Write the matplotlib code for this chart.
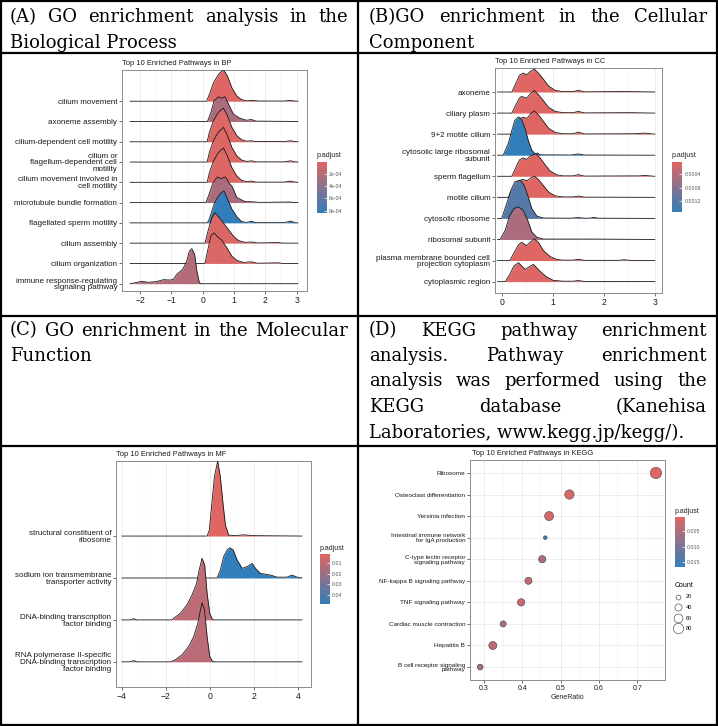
import matplotlib
matplotlib.use("Agg")
import matplotlib.pyplot as plt
import numpy as np
from matplotlib.colors import LinearSegmentedColormap, Normalize
from matplotlib.cm import ScalarMappable
from matplotlib.lines import Line2D

W, H, DPI = 718, 726, 100
plt.rcParams["font.family"] = ["Liberation Sans", "DejaVu Sans"]

# ---- header texts ----
HEAD_A = ["(A) GO enrichment analysis in the", "Biological Process"]
HEAD_B = ["(B)GO enrichment in the Cellular", "Component"]
HEAD_C = ["(C) GO enrichment in the Molecular", "Function"]
HEAD_D = ["(D) KEGG pathway enrichment",
          "analysis. Pathway enrichment",
          "analysis was performed using the",
          "KEGG database (Kanehisa",
          "Laboratories, www.kegg.jp/kegg/)."]

# ---- BP ridges (top -> bottom), points (x, relative height) ----
BP_TERMS = ["cilium movement", "axoneme assembly", "cilium-dependent cell motility",
            "cilium or\nflagellum-dependent cell\nmotility",
            "cilium movement involved in\ncell motility", "microtubule bundle formation",
            "flagellated sperm motility", "cilium assembly", "cilium organization",
            "immune response-regulating\nsignaling pathway"]
BP_PADJ = [2e-5, 2.6e-4, 3e-5, 3e-5, 3e-5, 2.6e-4, 8.3e-4, 4e-5, 4e-5, 2.2e-4]
BP_SPAN = (-2.32, 3.04)
BP_CURVES = [
    [(0.12, 0), (0.21, 0.33), (0.34, 0.9), (0.5, 1.32), (0.66, 1.56), (0.79, 1.23), (0.93, 0.66),
     (1.09, 0.25), (1.24, 0.08), (1.4, 0.02), (1.6, 0.04), (1.8, 0.01), (2.6, 0.01), (2.8, 0.04), (2.95, 0.01)],
    [(0.15, 0), (0.26, 0.44), (0.36, 1.02), (0.5, 1.22), (0.61, 1.15), (0.71, 1.22), (0.85, 0.77),
     (0.98, 0.36), (1.19, 0.16), (1.4, 0.06), (1.55, 0.1), (1.7, 0.02)],
    [(0.14, 0), (0.21, 0.46), (0.34, 1.04), (0.5, 1.45), (0.66, 1.66), (0.79, 1.28), (0.93, 0.71),
     (1.09, 0.3), (1.24, 0.1), (1.4, 0.03), (1.55, 0.05), (1.7, 0.01), (2.6, 0.01), (2.8, 0.05), (2.95, 0.01)],
    [(0.14, 0), (0.21, 0.47), (0.34, 1.06), (0.5, 1.48), (0.66, 1.71), (0.79, 1.3), (0.93, 0.72),
     (1.09, 0.3), (1.24, 0.1), (1.4, 0.03), (1.55, 0.06), (1.7, 0.01), (2.6, 0.01), (2.8, 0.06), (2.95, 0.01)],
    [(0.14, 0), (0.21, 0.46), (0.34, 1.05), (0.5, 1.47), (0.66, 1.7), (0.79, 1.29), (0.93, 0.72),
     (1.09, 0.3), (1.24, 0.1), (1.4, 0.03), (1.55, 0.06), (1.7, 0.01), (2.6, 0.01), (2.8, 0.06), (2.95, 0.01)],
    [(0.1, 0), (0.2, 0.4), (0.32, 0.95), (0.47, 1.27), (0.58, 1.18), (0.72, 1.27), (0.85, 0.95),
     (0.93, 0.82), (1.09, 0.25), (1.35, 0.05), (1.6, 0.04), (1.8, 0.01), (2.8, 0.03), (2.95, 0)],
    [(0.14, 0), (0.2, 0.15), (0.26, 0.43), (0.36, 0.92), (0.5, 1.33), (0.6, 1.5), (0.68, 1.58),
     (0.77, 1.25), (0.93, 0.68), (1.09, 0.3), (1.24, 0.07), (1.4, 0.02), (1.55, 0.08), (1.7, 0.01),
     (2.6, 0.01), (2.8, 0.09), (2.95, 0.01)],
    [(0.07, 0), (0.18, 0.67), (0.29, 1.25), (0.39, 1.5), (0.53, 1.25), (0.66, 1.0), (0.82, 0.67),
     (0.98, 0.35), (1.14, 0.13), (1.35, 0.04), (1.55, 0.06), (1.75, 0.01), (2.4, 0.03), (2.55, 0)],
    [(0.07, 0), (0.15, 0.6), (0.26, 1.35), (0.36, 1.51), (0.45, 1.35), (0.61, 1.14), (0.77, 0.77),
     (0.93, 0.36), (1.09, 0.15), (1.3, 0.05), (1.55, 0.08), (1.75, 0.01), (2.4, 0.03), (2.55, 0)],
    [(-2.32, 0), (-2.15, 0.05), (-1.95, 0.12), (-1.75, 0.07), (-1.5, 0.1), (-1.25, 0.2), (-1.05, 0.18),
     (-0.94, 0.21), (-0.83, 0.46), (-0.64, 0.71), (-0.51, 1.12), (-0.43, 1.6), (-0.35, 1.73),
     (-0.26, 1.45), (-0.19, 0.63), (-0.11, 0.05), (-0.05, 0)],
]

# ---- CC ridges ----
CC_TERMS = ["axoneme", "ciliary plasm", "9+2 motile cilium",
            "cytosolic large ribosomal\nsubunit", "sperm flagellum", "motile cilium",
            "cytosolic ribosome", "ribosomal subunit",
            "plasma membrane bounded cell\nprojection cytoplasm", "cytoplasmic region"]
CC_PADJ = [2e-5, 2e-5, 3e-5, 1.54e-3, 3e-5, 3e-5, 1.24e-3, 4.8e-4, 3e-5, 4e-5]
CC_SPAN = (-0.08, 3.0)
CC_CURVES = [
    [(0.2, 0), (0.28, 0.43), (0.35, 0.79), (0.42, 0.9), (0.49, 0.82), (0.56, 0.98), (0.64, 1.09),
     (0.72, 0.9), (0.82, 0.6), (0.92, 0.28), (1.05, 0.08), (1.2, 0.02), (1.4, 0.02), (1.5, 0.08),
     (1.62, 0.01), (2.2, 0.02), (2.5, 0.02), (2.8, 0.01)],
    [(0.2, 0), (0.28, 0.4), (0.35, 0.72), (0.39, 0.79), (0.49, 0.71), (0.56, 0.92), (0.64, 1.07),
     (0.72, 0.88), (0.82, 0.58), (0.92, 0.27), (1.05, 0.08), (1.2, 0.02), (1.4, 0.02), (1.5, 0.08),
     (1.62, 0.01), (2.5, 0.02)],
    [(0.2, 0), (0.28, 0.42), (0.36, 0.75), (0.42, 0.8), (0.5, 0.75), (0.57, 0.98), (0.64, 1.1),
     (0.72, 0.92), (0.82, 0.6), (0.92, 0.28), (1.05, 0.08), (1.2, 0.02), (1.4, 0.02), (1.5, 0.1),
     (1.62, 0.01), (2.6, 0.02), (2.8, 0.05), (2.95, 0.01)],
    [(0.03, 0), (0.13, 0.55), (0.2, 1.18), (0.26, 1.66), (0.33, 1.82), (0.39, 1.7), (0.46, 1.26),
     (0.52, 0.71), (0.59, 0.24), (0.65, 0.08), (0.7, 0.1), (0.76, 0.02), (1.35, 0.01), (1.5, 0.06),
     (1.62, 0.01)],
    [(0.2, 0), (0.28, 0.43), (0.35, 0.78), (0.42, 0.87), (0.49, 0.8), (0.57, 0.98), (0.67, 1.07),
     (0.75, 0.88), (0.85, 0.55), (0.95, 0.25), (1.08, 0.07), (1.2, 0.02), (1.4, 0.02), (1.5, 0.08),
     (1.62, 0.01), (2.7, 0.02), (2.8, 0.04), (2.95, 0.01)],
    [(0.13, 0), (0.22, 0.4), (0.3, 0.72), (0.4, 0.85), (0.5, 0.8), (0.57, 0.92), (0.64, 1.01),
     (0.72, 0.85), (0.82, 0.55), (0.92, 0.25), (1.05, 0.07), (1.2, 0.02), (1.4, 0.02), (1.5, 0.06),
     (1.62, 0.01)],
    [(0.0, 0), (0.1, 0.71), (0.18, 1.34), (0.26, 1.74), (0.36, 1.82), (0.44, 1.58), (0.52, 1.03),
     (0.59, 0.47), (0.69, 0.11), (0.82, 0.02), (1.35, 0.01), (1.5, 0.04), (1.62, 0.01), (1.72, 0.01),
     (1.8, 0.05), (1.9, 0.01)],
    [(-0.03, 0), (0.07, 0.44), (0.15, 1.1), (0.24, 1.47), (0.33, 1.55), (0.42, 1.39), (0.51, 0.92),
     (0.59, 0.36), (0.69, 0.1), (0.82, 0.02), (1.5, 0.02), (1.8, 0.02)],
    [(0.16, 0), (0.25, 0.4), (0.33, 0.75), (0.39, 0.87), (0.49, 0.71), (0.57, 0.9), (0.64, 1.03),
     (0.72, 0.86), (0.82, 0.47), (0.95, 0.19), (1.08, 0.05), (1.2, 0.02), (1.4, 0.02), (1.5, 0.06),
     (1.62, 0.01), (2.3, 0.01), (2.4, 0.04), (2.5, 0.01)],
    [(0.07, 0), (0.16, 0.35), (0.24, 0.74), (0.33, 0.9), (0.46, 0.58), (0.55, 0.72), (0.62, 0.82),
     (0.75, 0.5), (0.88, 0.22), (1.01, 0.06), (1.2, 0.02), (1.4, 0.02), (1.5, 0.05), (1.62, 0.01)],
]

# ---- MF ridges ----
MF_TERMS = ["structural constituent of\nribosome", "sodium ion transmembrane\ntransporter activity",
            "DNA-binding transcription\nfactor binding",
            "RNA polymerase II-specific\nDNA-binding transcription\nfactor binding"]
MF_PADJ = [0.0012, 0.0485, 0.0107, 0.0115]
MF_SPAN = (-3.98, 4.18)
MF_CURVES = [
    [(-0.12, 0), (-0.02, 0.14), (0.11, 0.86), (0.21, 1.41), (0.36, 1.79), (0.48, 1.41), (0.6, 0.78),
     (0.71, 0.26), (0.86, 0.02), (1.2, 0.01), (1.5, 0.03), (2.0, 0.01)],
    [(0.33, 0), (0.48, 0.19), (0.63, 0.51), (0.79, 0.67), (0.91, 0.72), (1.06, 0.67), (1.24, 0.43),
     (1.47, 0.23), (1.69, 0.27), (1.92, 0.35), (2.07, 0.23), (2.3, 0.11), (2.75, 0.07), (3.05, 0.02),
     (3.5, 0.02), (3.73, 0.07), (3.96, 0.02), (4.18, 0)],
    [(-3.6, 0), (-3.45, 0.03), (-3.3, 0), (-1.71, 0), (-1.63, 0.04), (-1.33, 0.16), (-1.03, 0.36),
     (-0.8, 0.6), (-0.6, 0.87), (-0.48, 1.19), (-0.35, 1.47), (-0.23, 1.31), (-0.12, 0.63),
     (0.0, 0.16), (0.11, 0.02), (0.2, 0)],
    [(-3.6, 0), (-3.45, 0.03), (-3.3, 0), (-1.78, 0), (-1.56, 0.05), (-1.25, 0.17), (-0.95, 0.37),
     (-0.73, 0.6), (-0.54, 0.92), (-0.42, 1.24), (-0.35, 1.41), (-0.24, 1.24), (-0.12, 0.6),
     (0.0, 0.13), (0.11, 0.02), (0.2, 0)],
]

# ---- KEGG dot plot ----
KEGG_TERMS = ["Ribosome", "Osteoclast differentiation", "Yersinia infection",
              "Intestinal immune network\nfor IgA production", "C-type lectin receptor\nsignaling pathway",
              "NF-kappa B signaling pathway", "TNF signaling pathway", "Cardiac muscle contraction",
              "Hepatitis B", "B cell receptor signaling\npathway"]
KEGG_RATIO = [0.749, 0.523, 0.470, 0.460, 0.452, 0.416, 0.397, 0.350, 0.323, 0.290]
KEGG_COUNT = [95, 66, 62, 12, 42, 40, 42, 30, 50, 28]
KEGG_PADJ = [0.0002, 0.0012, 0.0016, 0.0169, 0.0055, 0.0035, 0.0025, 0.0055, 0.0035, 0.0055]
COUNT_BREAKS = [20, 40, 60, 80]

CMAP = LinearSegmentedColormap.from_list("padj", ["#e06663", "#327eba"])
HEAD_FONT = "DejaVu Serif"

fig = plt.figure(figsize=(W / DPI, H / DPI), dpi=DPI)
fig.patch.set_facecolor("white")


def rect(x0, y0, x1, y1):
    # pixel box (top-left origin) -> figure fraction
    return [x0 / W, 1 - y1 / H, (x1 - x0) / W, (y1 - y0) / H]


def fline(x0, y0, x1, y1, lw=1.6):
    fig.add_artist(Line2D([x0 / W, x1 / W], [1 - y0 / H, 1 - y1 / H], transform=fig.transFigure,
                          color="black", lw=lw, solid_capstyle="projecting"))


def header(lines, x0, x1, y0, dy, fs=13.0):
    r = fig.canvas.get_renderer()
    for k, line in enumerate(lines):
        y = 1 - (y0 + k * dy) / H
        words = line.split(" ")
        if k == len(lines) - 1 or len(words) == 1:
            fig.text(x0 / W, y, line, family=HEAD_FONT, fontsize=fs, va="baseline")
            continue
        texts = [fig.text(0, y, w, family=HEAD_FONT, fontsize=fs, va="baseline") for w in words]
        widths = [t.get_window_extent(r).width for t in texts]
        gap = (x1 - x0 - sum(widths)) / (len(words) - 1)
        x = x0
        for t, w in zip(texts, widths):
            t.set_x(x / W)
            x += w + gap


def style_axes(ax, xticks, minor, lsize=5.8, xsize=6.2):
    for s in ax.spines.values():
        s.set_color("#8c8c8c")
        s.set_linewidth(0.7)
    ax.set_xticks(xticks)
    ax.set_xticks(minor, minor=True)
    ax.grid(True, axis="x", which="major", color="#e6e6e6", lw=0.5)
    ax.grid(True, axis="x", which="minor", color="#f2f2f2", lw=0.35)
    ax.set_axisbelow(True)
    ax.tick_params(axis="both", which="major", labelsize=lsize, length=2, width=0.5,
                   color="#333333", labelcolor="#1a1a1a", pad=1.5)
    ax.tick_params(axis="x", which="major", labelsize=xsize)
    ax.tick_params(axis="x", which="minor", length=0)


def colorbar(box, vmin, vmax, ticks, labels, title_xy):
    cax = fig.add_axes(rect(*box))
    cb = fig.colorbar(ScalarMappable(Normalize(vmin, vmax), CMAP), cax=cax)
    cax.invert_yaxis()
    cb.outline.set_visible(False)
    cb.set_ticks(ticks)
    cb.set_ticklabels(labels)
    cax.tick_params(labelsize=3.8, length=2, width=0.5, color="white", direction="in",
                    labelcolor="#555555", pad=1.5)
    fig.text(title_xy[0] / W, 1 - title_xy[1] / H, "p.adjust", fontsize=5, color="#222222",
             va="baseline")


def ridge_panel(box, terms, curves, padj, span, xlim, ylim, xticks, minor, title, cbox, cticks,
                clabels, ctitle):
    ax = fig.add_axes(rect(*box))
    norm = Normalize(cbox[4], cbox[5])
    n = len(terms)
    for i, (pts, p) in enumerate(zip(curves, padj)):
        base = n - i
        xs = [x for x, _ in pts]
        hs = [h for _, h in pts]
        if xs[0] > span[0]:
            xs = [span[0]] + xs
            hs = [0] + hs
        if xs[-1] < span[1]:
            xs = xs + [span[1]]
            hs = hs + [0]
        xs = np.array(xs)
        ys = base + np.array(hs)
        ax.fill_between(xs, base, ys, color=CMAP(norm(p)), lw=0, zorder=2 + 2 * i)
        ax.plot(xs, ys, color="#1a1a1a", lw=0.6, zorder=3 + 2 * i)
    ax.set_xlim(*xlim)
    ax.set_ylim(*ylim)
    ax.set_yticks(np.arange(n, 0, -1))
    ax.set_yticklabels(terms, linespacing=0.95)
    style_axes(ax, xticks, minor)
    fig.text(box[0] / W, 1 - (box[1] - 3) / H, title, fontsize=5.4, color="#1a1a1a", va="bottom")
    colorbar(cbox[:4], cbox[4], cbox[5], cticks, clabels, ctitle)
    return ax


# ---- frame ----
fline(1, 1, 717, 1)
fline(1, 725, 717, 725)
fline(1, 1, 1, 725)
fline(717, 1, 717, 725)
fline(358, 1, 358, 725)
fline(1, 53, 717, 53)
fline(1, 316, 717, 316)
fline(1, 446, 717, 446)

header(HEAD_A, 10, 348, 22.5, 25.5)
header(HEAD_B, 369, 707, 22.5, 25.5)
header(HEAD_C, 10, 348, 335.5, 25.5)
header(HEAD_D, 369, 707, 335.5, 25.5)

# ---- A: BP ----
ridge_panel((122, 70, 307, 291), BP_TERMS, BP_CURVES, BP_PADJ, BP_SPAN, (-2.58, 3.33), (0.64, 11.54),
            [-2, -1, 0, 1, 2, 3], np.arange(-2.5, 3.5, 0.5), "Top 10 Enriched Pathways in BP",
            (317, 161.7, 326.7, 212.7, 1e-5, 8.3e-4), [2e-4, 4e-4, 6e-4, 8e-4],
            ["2e-04", "4e-04", "6e-04", "8e-04"], (317, 157))

# ---- B: CC ----
ridge_panel((495, 68, 662, 293), CC_TERMS, CC_CURVES, CC_PADJ, CC_SPAN, (-0.13, 3.14), (0.46, 11.14),
            [0, 1, 2, 3], np.arange(0, 3.5, 0.5), "Top 10 Enriched Pathways in CC",
            (672.3, 161.7, 682.3, 212.3, 2e-5, 1.54e-3), [4e-4, 8e-4, 1.2e-3],
            ["0.0004", "0.0008", "0.0012"], (672, 157))

# ---- C: MF ----
ridge_panel((116, 461, 311, 687), MF_TERMS, MF_CURVES, MF_PADJ, MF_SPAN, (-4.25, 4.59), (0.4, 5.79),
            [-4, -2, 0, 2, 4], np.arange(-4, 5, 1), "Top 10 Enriched Pathways in MF",
            (320, 554, 330, 604, 0.0012, 0.0485), [0.01, 0.02, 0.03, 0.04],
            ["0.01", "0.02", "0.03", "0.04"], (320, 550))

# ---- D: KEGG ----
axd = fig.add_axes(rect(470, 460, 665, 680))
normd = Normalize(0.0001, 0.0169)
cnt = np.array(KEGG_COUNT, dtype=float)
lo, hi = np.sqrt(cnt.min()), np.sqrt(cnt.max())


def dot_size(c):
    # ggplot-like area scale: diameter 3.7..11.3 px
    d_px = 3.7 + (np.sqrt(c) - lo) / (hi - lo) * (11.3 - 3.7)
    return (d_px * 72 / DPI) ** 2


ypos = np.arange(len(KEGG_TERMS), 0, -1)
axd.scatter(KEGG_RATIO, ypos, s=dot_size(cnt), c=KEGG_PADJ, cmap=CMAP, norm=normd,
            edgecolors="#333333", linewidths=0.35, zorder=3)
axd.set_xlim(0.2634, 0.7726)
axd.set_ylim(0.4, 10.6)
axd.set_yticks(ypos)
axd.set_yticklabels(KEGG_TERMS, linespacing=0.95)
style_axes(axd, [0.3, 0.4, 0.5, 0.6, 0.7], np.arange(0.35, 0.8, 0.1), lsize=4.6, xsize=5.0)
axd.grid(True, axis="y", color="#e6e6e6", lw=0.5)
axd.set_xlabel("GeneRatio", fontsize=5.0, color="#222222", labelpad=1.5)
fig.text(471.7 / W, 1 - 457 / H, "Top 10 Enriched Pathways in KEGG", fontsize=5.4, color="#1a1a1a",
         va="bottom")
colorbar((675, 516.7, 685, 567.3), 0.0001, 0.0169, [0.005, 0.010, 0.015],
         ["0.005", "0.010", "0.015"], (675, 513))

handles = [Line2D([], [], marker="o", ls="", mfc="white", mec="#333333", mew=0.4,
                  ms=np.sqrt(dot_size(c))) for c in COUNT_BREAKS]
leg = axd.legend(handles, [str(c) for c in COUNT_BREAKS], title="Count", frameon=False,
                 fontsize=4, title_fontsize=5, loc="upper left",
                 bbox_to_anchor=(671 / W, 1 - 578 / H), bbox_transform=fig.transFigure,
                 handletextpad=0.8, labelspacing=1.0, borderpad=0.2, handlelength=1.2)
leg._legend_box.align = "left"

fig.savefig("out.png", dpi=DPI)
